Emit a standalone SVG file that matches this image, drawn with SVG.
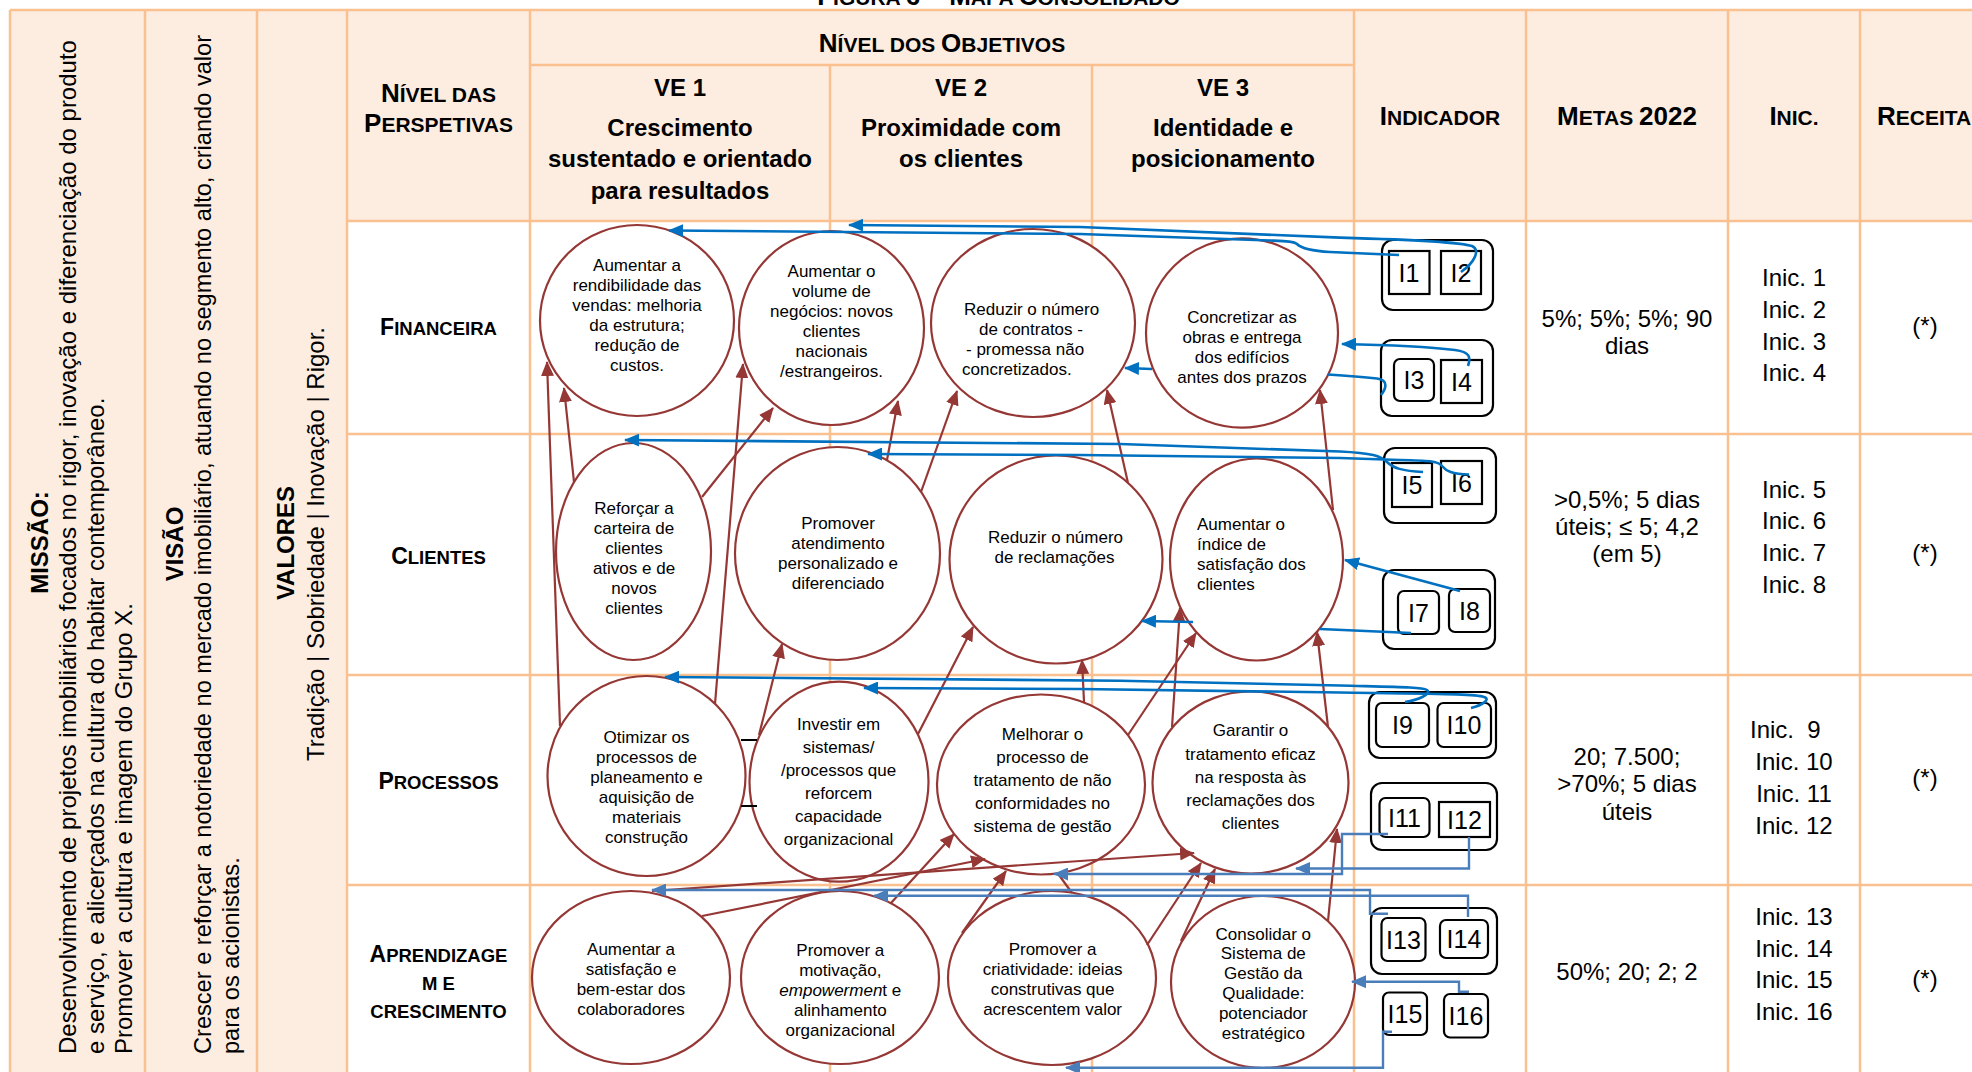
<svg xmlns="http://www.w3.org/2000/svg" width="1972" height="1072" viewBox="0 0 1972 1072">
<defs>
<style>
text{font-family:"Liberation Sans",Arial,sans-serif;fill:#000}
.b{font-weight:bold}
.grid{stroke:#FAC08F;stroke-width:2.5;fill:none}
.peach{fill:#FDEDE1}
.obj ellipse{fill:#fff;stroke:#953735;stroke-width:2.2}
.obj text{font-size:17px;text-anchor:middle}
.obj text.s{text-anchor:start}
.ind rect{fill:#fff;stroke:#000;stroke-width:2.2}
.ind text{font-size:25px;text-anchor:middle}
.cell{font-size:24px;text-anchor:middle}
.cell text.s{text-anchor:start}
.vt{font-size:24px}
.vt.sm{font-size:23.6px}
.red{stroke:#953735;stroke-width:2.2;fill:none;marker-end:url(#arR)}
.red.n{marker-end:none}
.blu{stroke:#0070C0;stroke-width:2.6;fill:none}
.blu.a{marker-end:url(#arB)}
.lbl{stroke:#4A7EBB;stroke-width:2.4;fill:none;marker-end:url(#arL)}
.blk{stroke:#000;stroke-width:2;fill:none}
</style>
<marker id="arR" markerUnits="userSpaceOnUse" viewBox="0 0 15 13" markerWidth="15" markerHeight="13" refX="14" refY="6.5" orient="auto"><path d="M0,0 L15,6.5 L0,13 z" fill="#953735"/></marker>
<marker id="arB" markerUnits="userSpaceOnUse" viewBox="0 0 15 13" markerWidth="15" markerHeight="13" refX="14" refY="6.5" orient="auto"><path d="M0,0 L15,6.5 L0,13 z" fill="#0070C0"/></marker>
<marker id="arL" markerUnits="userSpaceOnUse" viewBox="0 0 15 13" markerWidth="15" markerHeight="13" refX="14" refY="6.5" orient="auto"><path d="M0,0 L15,6.5 L0,13 z" fill="#4A7EBB"/></marker>
</defs>

<rect width="1972" height="1072" fill="#fff"/>

<!-- caption, mostly above the visible area -->
<text class="b" x="998.5" y="5" text-anchor="middle"><tspan font-size="26">F</tspan><tspan font-size="21">IGURA </tspan><tspan font-size="26">6 – M</tspan><tspan font-size="21">APA </tspan><tspan font-size="26">C</tspan><tspan font-size="21">ONSOLIDADO</tspan></text>

<!-- table backgrounds and grid -->
<g id="table">
<rect class="peach" x="10" y="10" width="337" height="1062"/>
<rect class="peach" x="347" y="10" width="1625" height="211"/>
<path class="grid" d="M10,10 H1972 M10,10 V1072 M145,10 V1072 M257,10 V1072 M347,10 V1072 M530,10 V1072 M830,65 V1072 M1092,65 V1072 M1354,10 V1072 M1526,10 V1072 M1728,10 V1072 M1860,10 V1072 M530,65 H1354 M347,221 H1972 M347,434 H1972 M347,675 H1972 M347,885 H1972"/>
</g>

<!-- mission / vision / values -->
<g id="missao">
<text class="vt b" text-anchor="middle" transform="translate(48,542.5) rotate(-90)">MISSÃO:</text>
<text class="vt" transform="translate(76,1054) rotate(-90)">Desenvolvimento de projetos imobiliários focados no rigor, inovação e diferenciação do produto</text>
<text class="vt" transform="translate(104,1054) rotate(-90)">e serviço, e alicerçados na cultura do habitar contemporâneo.</text>
<text class="vt" transform="translate(132,1054) rotate(-90)">Promover a cultura e imagem do Grupo X.</text>
</g>
<g id="visao">
<text class="vt b" text-anchor="middle" transform="translate(182.5,544) rotate(-90)">VISÃO</text>
<text class="vt sm" transform="translate(211,1054) rotate(-90)">Crescer e reforçar a notoriedade no mercado imobiliário, atuando no segmento alto, criando valor</text>
<text class="vt sm" transform="translate(239,1054) rotate(-90)">para os acionistas.</text>
</g>
<g id="valores">
<text class="vt b" text-anchor="middle" transform="translate(294,543) rotate(-90)">VALORES</text>
<text class="vt" text-anchor="middle" transform="translate(324,544) rotate(-90)">Tradição | Sobriedade | Inovação | Rigor.</text>
</g>

<!-- column headers -->
<g id="headers" class="b">
<text x="438.5" y="102" text-anchor="middle"><tspan font-size="26">N</tspan><tspan font-size="21">ÍVEL DAS</tspan></text>
<text x="438.5" y="132" text-anchor="middle"><tspan font-size="26">P</tspan><tspan font-size="21">ERSPETIVAS</tspan></text>
<text x="942" y="52" text-anchor="middle"><tspan font-size="26">N</tspan><tspan font-size="21">ÍVEL DOS </tspan><tspan font-size="26">O</tspan><tspan font-size="21">BJETIVOS</tspan></text>
<g font-size="24" text-anchor="middle">
<text x="680" y="95.5">VE 1</text>
<text x="680" y="135.5">Crescimento</text>
<text x="680" y="167">sustentado e orientado</text>
<text x="680" y="198.5">para resultados</text>
<text x="961" y="95.5">VE 2</text>
<text x="961" y="135.5">Proximidade com</text>
<text x="961" y="167">os clientes</text>
<text x="1223" y="95.5">VE 3</text>
<text x="1223" y="135.5">Identidade e</text>
<text x="1223" y="167">posicionamento</text>
</g>
<text x="1440" y="125" text-anchor="middle"><tspan font-size="26">I</tspan><tspan font-size="21">NDICADOR</tspan></text>
<text x="1627" y="125" text-anchor="middle"><tspan font-size="26">M</tspan><tspan font-size="21">ETAS </tspan><tspan font-size="26">2022</tspan></text>
<text x="1794" y="125" text-anchor="middle"><tspan font-size="26">I</tspan><tspan font-size="21">NIC.</tspan></text>
<text x="1877" y="125"><tspan font-size="26">R</tspan><tspan font-size="21">ECEITA</tspan></text>
</g>

<!-- perspective row labels -->
<g id="perspetivas" class="b" text-anchor="middle">
<text x="438.5" y="335"><tspan font-size="23">F</tspan><tspan font-size="18.5">INANCEIRA</tspan></text>
<text x="438.5" y="564"><tspan font-size="23">C</tspan><tspan font-size="18.5">LIENTES</tspan></text>
<text x="438.5" y="789"><tspan font-size="23">P</tspan><tspan font-size="18.5">ROCESSOS</tspan></text>
<text x="438.5" y="962"><tspan font-size="23">A</tspan><tspan font-size="18.5">PRENDIZAGE</tspan></text>
<text x="438.5" y="990" font-size="18.5">M E</text>
<text x="438.5" y="1018" font-size="18.5">CRESCIMENTO</text>
</g>

<!-- targets, initiatives, revenue -->
<g id="metas" class="cell">
<text x="1627" y="326.5">5%; 5%; 5%; 90</text>
<text x="1627" y="354">dias</text>
<text x="1627" y="508">&gt;0,5%; 5 dias</text>
<text x="1627" y="535">úteis; ≤ 5; 4,2</text>
<text x="1627" y="562">(em 5)</text>
<text x="1627" y="765">20; 7.500;</text>
<text x="1627" y="792">&gt;70%; 5 dias</text>
<text x="1627" y="819.5">úteis</text>
<text x="1627" y="979.5">50%; 20; 2; 2</text>
</g>
<g id="iniciativas" class="cell">
<text x="1794" y="286">Inic. 1</text>
<text x="1794" y="317.5">Inic. 2</text>
<text x="1794" y="349.5">Inic. 3</text>
<text x="1794" y="381">Inic. 4</text>
<text x="1794" y="497.6">Inic. 5</text>
<text x="1794" y="529">Inic. 6</text>
<text x="1794" y="561">Inic. 7</text>
<text x="1794" y="593">Inic. 8</text>
<text class="s" x="1750" y="738" xml:space="preserve">Inic.  9</text>
<text x="1794" y="770">Inic. 10</text>
<text x="1794" y="802">Inic. 11</text>
<text x="1794" y="833.5">Inic. 12</text>
<text x="1794" y="925">Inic. 13</text>
<text x="1794" y="956.5">Inic. 14</text>
<text x="1794" y="988">Inic. 15</text>
<text x="1794" y="1019.5">Inic. 16</text>
</g>
<g id="receitas" class="cell">
<text x="1925" y="334">(*)</text>
<text x="1925" y="560.5">(*)</text>
<text x="1925" y="785.5">(*)</text>
<text x="1925" y="987">(*)</text>
</g>

<!-- strategic objectives -->
<g class="obj">
<g id="obj-f1"><ellipse cx="637" cy="320.5" rx="97" ry="95.5"/>
<text x="637" y="271">Aumentar a</text><text x="637" y="291">rendibilidade das</text><text x="637" y="311">vendas: melhoria</text><text x="637" y="331">da estrutura;</text><text x="637" y="351">redução de</text><text x="637" y="371">custos.</text></g>
<g id="obj-f2"><ellipse cx="831.5" cy="328" rx="92.5" ry="97"/>
<text x="831.5" y="277">Aumentar o</text><text x="831.5" y="297">volume de</text><text x="831.5" y="317">negócios: novos</text><text x="831.5" y="337">clientes</text><text x="831.5" y="357">nacionais</text><text x="831.5" y="377">/estrangeiros.</text></g>
<g id="obj-f3"><ellipse cx="1033" cy="323" rx="102" ry="94"/>
<text class="s" x="964" y="315">Reduzir o número</text><text class="s" x="979" y="335">de contratos -</text><text class="s" x="966" y="355">- promessa não</text><text class="s" x="962" y="375">concretizados.</text></g>
<g id="obj-f4"><ellipse cx="1242" cy="333" rx="96" ry="94.7"/>
<text x="1242" y="323">Concretizar as</text><text x="1242" y="343">obras e entrega</text><text x="1242" y="363">dos edifícios</text><text x="1242" y="383">antes dos prazos</text></g>

<g id="obj-c1"><ellipse cx="633.5" cy="551.5" rx="77.5" ry="108.5"/>
<text x="634" y="514">Reforçar a</text><text x="634" y="534">carteira de</text><text x="634" y="554">clientes</text><text x="634" y="574">ativos e de</text><text x="634" y="594">novos</text><text x="634" y="614">clientes</text></g>
<g id="obj-c2"><ellipse cx="837.5" cy="553.5" rx="102.5" ry="106.5"/>
<text x="838" y="529">Promover</text><text x="838" y="549">atendimento</text><text x="838" y="569">personalizado e</text><text x="838" y="589">diferenciado</text></g>
<g id="obj-c3"><ellipse cx="1056" cy="559.5" rx="106.5" ry="104"/>
<text x="1055.5" y="543">Reduzir o número</text><text x="1054.5" y="563">de reclamações</text></g>
<g id="obj-c4"><ellipse cx="1256.5" cy="559.5" rx="86.5" ry="101"/>
<text class="s" x="1197" y="529.5">Aumentar o</text><text class="s" x="1197" y="549.5">índice de</text><text class="s" x="1197" y="569.5">satisfação dos</text><text class="s" x="1197" y="589.5">clientes</text></g>

<g id="obj-p1"><ellipse cx="646.5" cy="776" rx="99" ry="100"/>
<text x="646.5" y="743">Otimizar os</text><text x="646.5" y="763">processos de</text><text x="646.5" y="783">planeamento e</text><text x="646.5" y="803">aquisição de</text><text x="646.5" y="823">materiais</text><text x="646.5" y="843">construção</text></g>
<g id="obj-p2"><ellipse cx="839" cy="781.7" rx="89.5" ry="100"/>
<text x="838.6" y="729.5">Investir em</text><text x="838.6" y="752.5">sistemas/</text><text x="838.6" y="775.5">/processos que</text><text x="838.6" y="798.5">reforcem</text><text x="838.6" y="821.5">capacidade</text><text x="838.6" y="844.5">organizacional</text></g>
<g id="obj-p3"><ellipse cx="1041" cy="784.5" rx="104" ry="90"/>
<text x="1042.5" y="740">Melhorar o</text><text x="1042.5" y="763">processo de</text><text x="1042.5" y="785.5">tratamento de não</text><text x="1042.5" y="808.5">conformidades no</text><text x="1042.5" y="831.5">sistema de gestão</text></g>
<g id="obj-p4"><ellipse cx="1250.5" cy="782.5" rx="98" ry="91"/>
<text x="1250.5" y="736">Garantir o</text><text x="1250.5" y="760">tratamento eficaz</text><text x="1250.5" y="783">na resposta às</text><text x="1250.5" y="806">reclamações dos</text><text x="1250.5" y="829">clientes</text></g>

<g id="obj-a1"><ellipse cx="631" cy="977.5" rx="99" ry="86.5"/>
<text x="631" y="954.5">Aumentar a</text><text x="631" y="974.5">satisfação e</text><text x="631" y="994.5">bem-estar dos</text><text x="631" y="1014.5">colaboradores</text></g>
<g id="obj-a2"><ellipse cx="840" cy="977.5" rx="99" ry="86.5"/>
<text x="840.3" y="955.5">Promover a</text><text x="840.3" y="975.5">motivação,</text><text x="840.3" y="995.5"><tspan font-style="italic">empowermen</tspan>t e</text><text x="840.3" y="1015.5">alinhamento</text><text x="840.3" y="1035.5">organizacional</text></g>
<g id="obj-a3"><ellipse cx="1052" cy="978" rx="104" ry="87"/>
<text x="1052.6" y="954.5">Promover a</text><text x="1052.6" y="974.5">criatividade: ideias</text><text x="1052.6" y="994.5">construtivas que</text><text x="1052.6" y="1014.5">acrescentem valor</text></g>
<g id="obj-a4"><ellipse cx="1263" cy="982" rx="92" ry="86"/>
<text x="1263.3" y="939.5">Consolidar o</text><text x="1263.3" y="958.5">Sistema de</text><text x="1263.3" y="978.5">Gestão da</text><text x="1263.3" y="998.5">Qualidade:</text><text x="1263.3" y="1018.5">potenciador</text><text x="1263.3" y="1038.5">estratégico</text></g>
</g>

<!-- indicators -->
<g class="ind">
<g id="ind-1-2"><rect x="1382" y="240" width="111" height="70" rx="11"/>
<rect x="1389" y="251" width="40.5" height="43"/><rect x="1441" y="251" width="40" height="43"/>
<text x="1409" y="281.5">I1</text><text x="1461" y="281.5">I2</text></g>
<g id="ind-3-4"><rect x="1381" y="340" width="112" height="76" rx="11"/>
<rect x="1394" y="359" width="40" height="42" rx="6"/><rect x="1441" y="360" width="41" height="43"/>
<text x="1414" y="389">I3</text><text x="1461.5" y="390.5">I4</text></g>
<g id="ind-5-6"><rect x="1384" y="448" width="112" height="75" rx="11"/>
<rect x="1392" y="463" width="40" height="44"/><rect x="1441" y="461" width="41" height="43"/>
<text x="1412" y="494">I5</text><text x="1461.5" y="491.5">I6</text></g>
<g id="ind-7-8"><rect x="1383" y="570" width="112" height="79" rx="11"/>
<rect x="1398" y="591" width="41" height="43" rx="6"/><rect x="1449" y="589" width="41" height="43" rx="6"/>
<text x="1418.5" y="621.5">I7</text><text x="1469.5" y="619.5">I8</text></g>
<g id="ind-9-10"><rect x="1369" y="692" width="127" height="66" rx="11"/>
<rect x="1376" y="703" width="53" height="44" rx="6"/><rect x="1437.5" y="703" width="53.5" height="44" rx="6"/>
<text x="1402.5" y="734">I9</text><text x="1464" y="734">I10</text></g>
<g id="ind-11-12"><rect x="1371" y="783" width="126" height="67" rx="11"/>
<rect x="1379.5" y="798" width="50" height="39" rx="6"/><rect x="1439" y="802" width="51" height="35"/>
<text x="1404.5" y="826.5">I11</text><text x="1464.5" y="828.5">I12</text></g>
<g id="ind-13-14"><rect x="1371" y="908" width="126" height="66" rx="11"/>
<rect x="1381.5" y="918" width="44" height="43" rx="6"/><rect x="1440" y="920" width="48" height="38" rx="6"/>
<text x="1403.5" y="948.5">I13</text><text x="1464" y="948">I14</text></g>
<g id="ind-15"><rect x="1383" y="992.5" width="44" height="42.5" rx="6"/><text x="1405" y="1022.5">I15</text></g>
<g id="ind-16"><rect x="1444" y="994" width="44" height="43.5" rx="6"/><text x="1466" y="1024.5">I16</text></g>
</g>

<!-- cause-effect and indicator links -->
<g id="connectors">
<path class="blk" d="M741,740 H757 M741,806 H757"/>
<path class="red" d="M560,726 L547,362"/>
<path class="red" d="M574,482 L564,388"/>
<path class="red" d="M715,704 L743,364"/>
<path class="red" d="M702,497 L773,408"/>
<path class="red" d="M887,460 L898,401"/>
<path class="red" d="M921,492 L957,391"/>
<path class="red" d="M1128,483 L1107,390"/>
<path class="red" d="M1333,510 L1320,390"/>
<path class="red" d="M759,735 L782,644"/>
<path class="red" d="M918,734 L973,627"/>
<path class="red" d="M1084,702 L1082,660"/>
<path class="red" d="M1172,727 L1180,608"/>
<path class="red" d="M1128,735 L1196,633"/>
<path class="red" d="M1328,727 L1317,632"/>
<path class="red" d="M702,916 L985,859"/>
<path class="red" d="M652,891 L1194,853"/>
<path class="red" d="M891,903 L954,834"/>
<path class="red" d="M962,933 L1006,871"/>
<path class="red n" d="M1072,893 L1059,875"/>
<path class="red" d="M1147,945 L1201,863"/>
<path class="red" d="M1181,941 L1215,869"/>
<path class="red" d="M1328,921 L1337,829"/>

<path class="blu a" d="M1399,255 L1330,252 C1312,251 1302,249 1297,244 C1294,241 1285,241 1270,240.5 L1080,234 L669,230.5"/>
<path class="blu a" d="M1461,272 C1474,263 1481,250 1472,246 C1460,242 1420,240 1340,237.6 L1080,227 L849,225"/>
<path class="blu a" d="M1468,366 C1471,357 1470,352 1455,350 C1430,347 1390,345 1342,344"/>
<path class="blu" d="M1381,395 C1386,389 1389,380 1377,378.5 C1360,376.5 1345,375.5 1328,374.5"/>
<path class="blu a" d="M1152,369 L1125,368"/>
<path class="blu a" d="M1423,472 C1402,471 1393,468 1387,462 C1381,456 1372,453 1340,451.5 L1120,444 L625,440"/>
<path class="blu a" d="M1469,474.5 C1452,474 1446,471 1442,466 C1438,461 1428,460.5 1400,460 L1340,458 L1080,455 L868,454"/>
<path class="blu a" d="M1460,591 L1345,560"/>
<path class="blu" d="M1411,633 L1320,629"/>
<path class="blu a" d="M1193,622 L1142,621"/>
<path class="blu a" d="M1405,702 C1418,700 1432,694 1427,690 C1422,687 1400,687 1340,685.5 L1120,680.7 L665,677"/>
<path class="blu a" d="M1471,708 C1483,705 1491,699 1484,697 C1476,694 1450,694 1340,692.5 L1080,689 L864,688"/>

<path class="lbl" d="M1388,834 H1342 V874 H1054"/>
<path class="lbl" d="M1469,837 V868.5 H1296"/>
<path class="lbl" d="M1388,913.7 H1370 V890 H652"/>
<path class="lbl" d="M1468,917 V895.7 H874"/>
<path class="lbl" d="M1469,991.7 H1459 V981.7 H1352"/>
<path class="lbl" d="M1392,1031.7 H1383 V1067.7 H1066"/>
</g>
</svg>
